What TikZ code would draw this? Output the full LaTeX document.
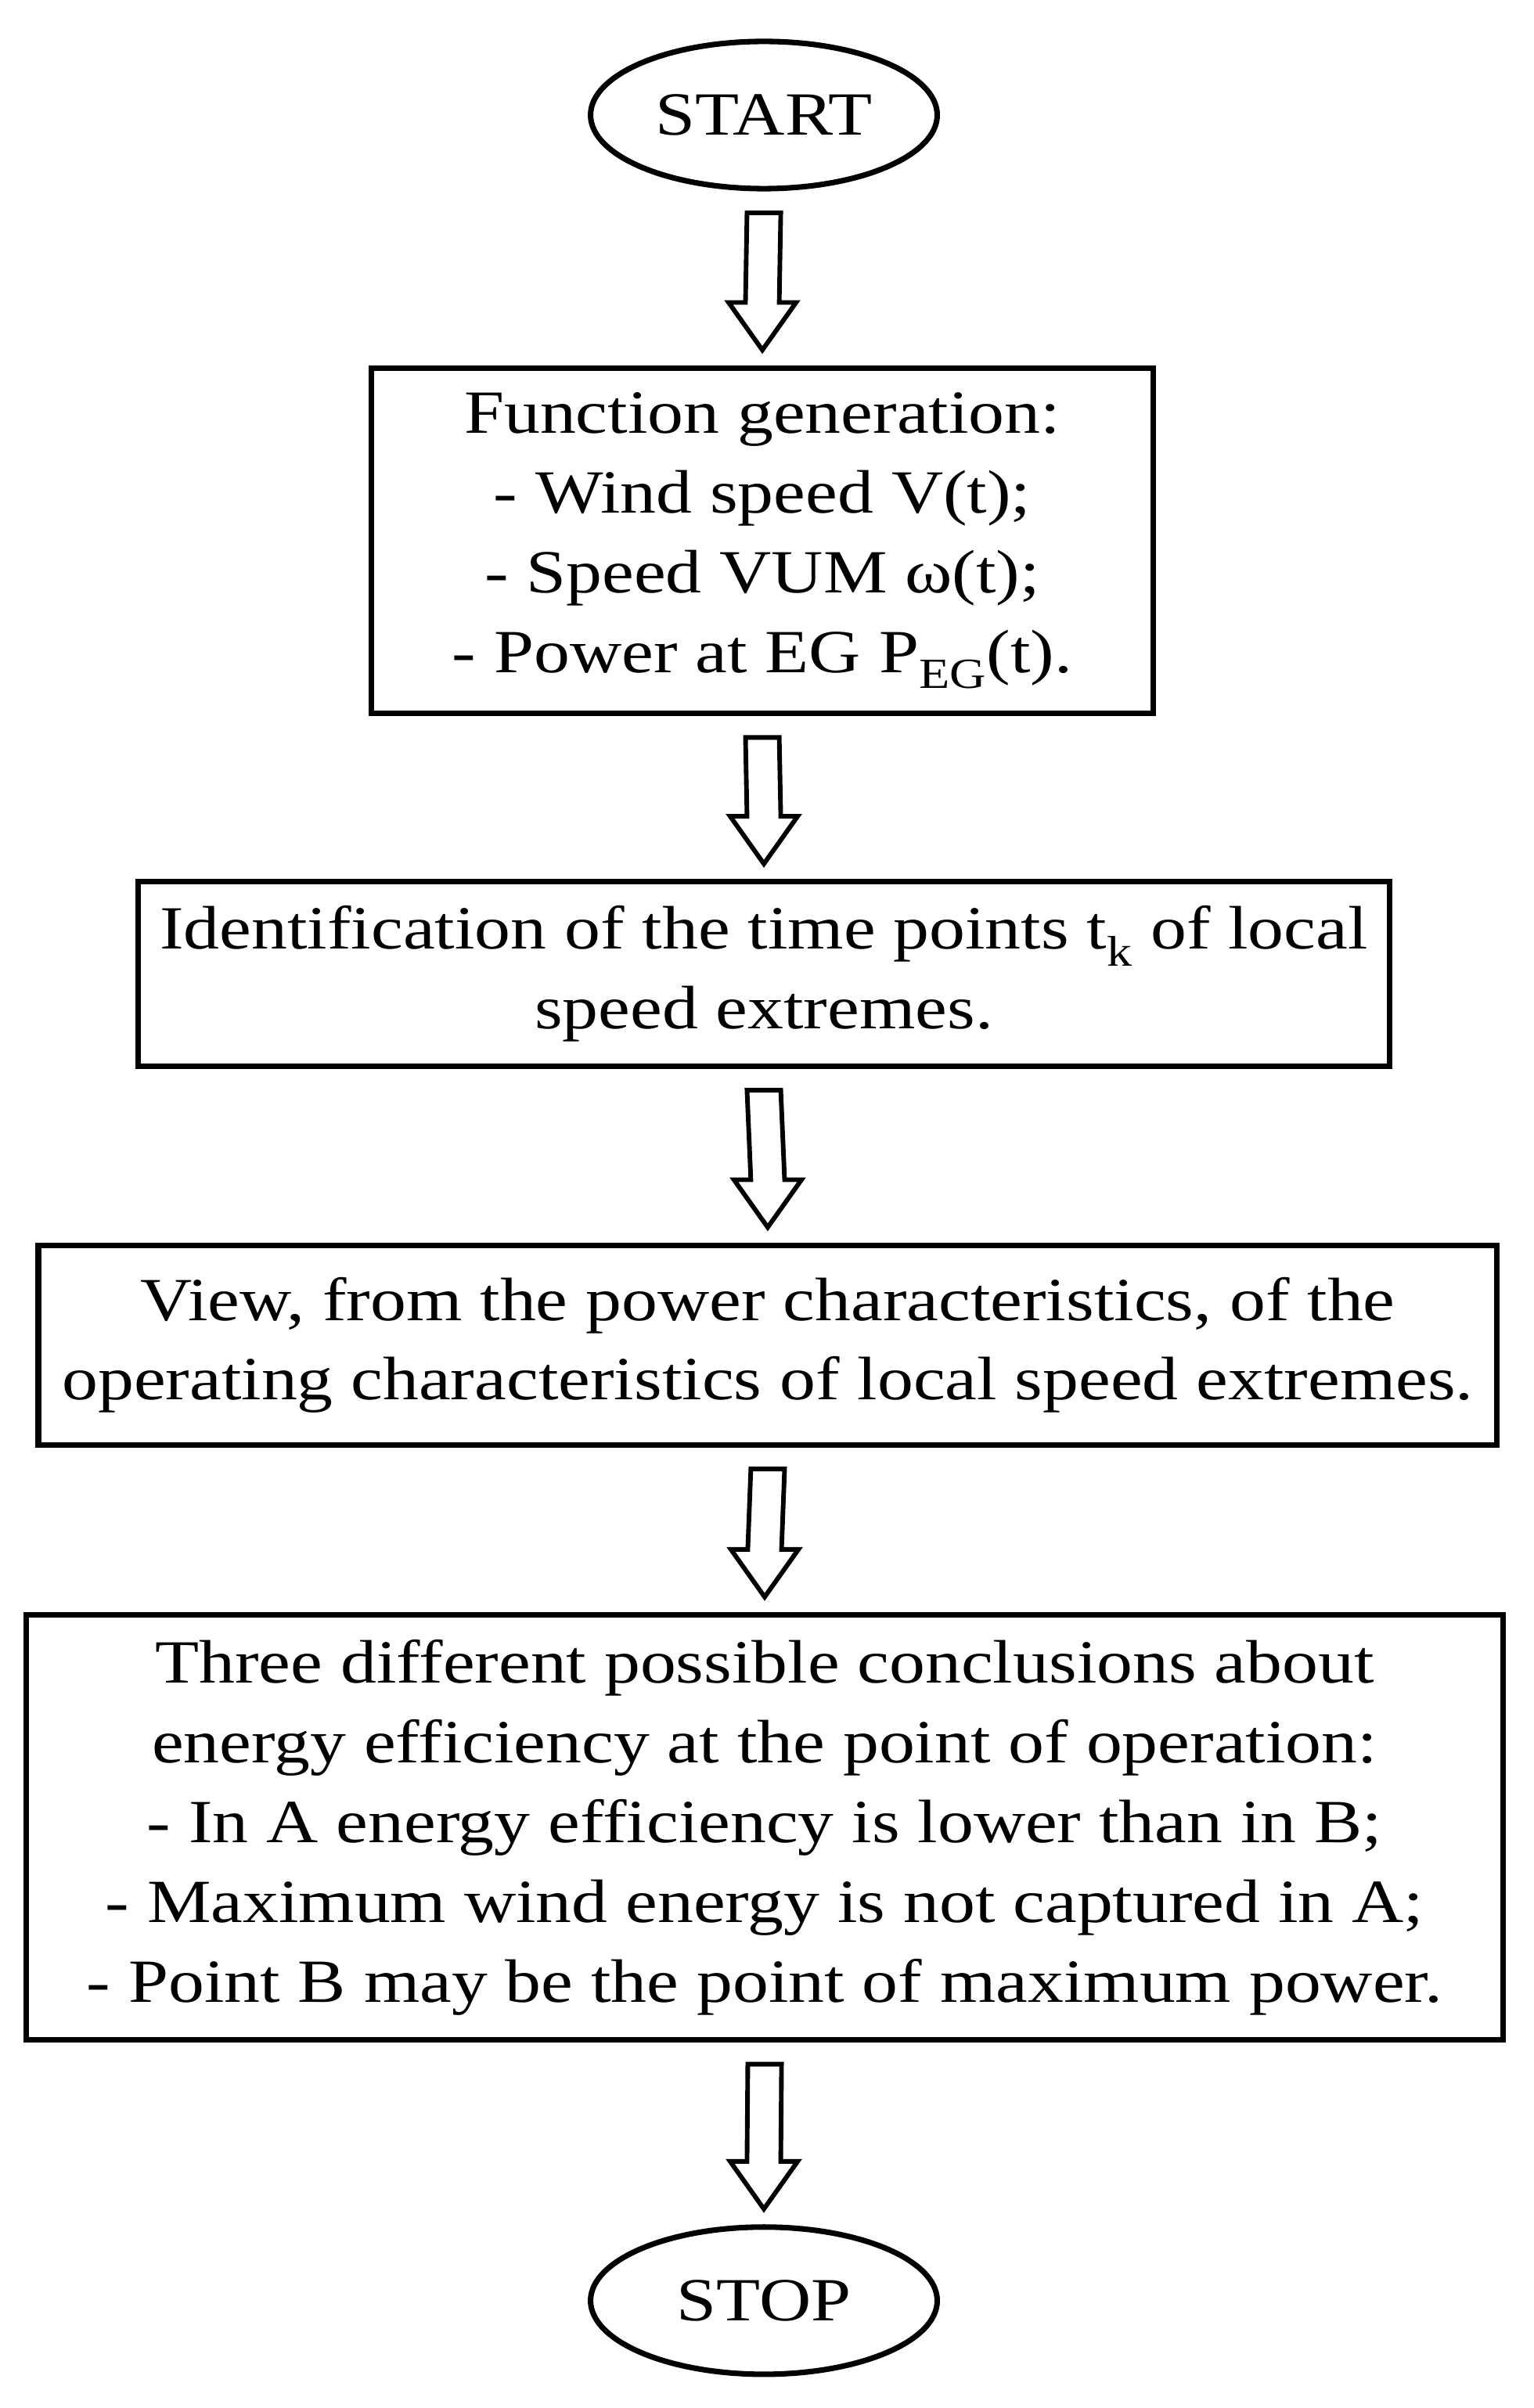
\documentclass[tikz,border=0pt]{standalone}
\usepackage{fontspec}
\setmainfont[FakeStretch=1.17]{Liberation Serif}
\usetikzlibrary{shapes.geometric}
\tikzset{
  box/.style={draw, line width=3.6pt, align=center, font=\fontsize{40}{52}\selectfont, inner sep=0pt},
  term/.style={draw, ellipse, line width=3.6pt, font=\fontsize{40}{52}\selectfont, minimum width=226pt, minimum height=96pt, inner sep=0pt},
  harrow/.style={draw, line width=3pt, line join=miter, fill=white}
}
\newcommand\hollowarrow[2]{%
  \path (#1.south) ++(0,-14) coordinate (ta);
  \path (#2.north) ++(0,10) coordinate (tb);
  \draw[harrow] (ta) ++(-11,0) -- ([xshift=-11pt,yshift=31pt]tb) -- ([xshift=-22pt,yshift=31pt]tb) -- (tb)
    -- ([xshift=22pt,yshift=31pt]tb) -- ([xshift=11pt,yshift=31pt]tb) -- ([xshift=11pt]ta) -- cycle;
}
\begin{document}
\begin{tikzpicture}[x=1pt,y=1pt]
\useasboundingbox (0,0) rectangle (1000,-1570);
\node[term] (start) at (498,-75) {START};
\node[box, minimum width=510pt, minimum height=225pt] (b1) at (497,-352.5) {Function generation:\\- Wind speed V(t);\\- Speed VUM ω(t);\\- Power at EG P\textsubscript{EG}(t).};
\node[box, minimum width=816pt, minimum height=120pt] (b2) at (498,-635) {Identification of the time points t\textsubscript{k} of local\\speed extremes.};
\node[box, minimum width=951pt, minimum height=130pt] (b3) at (500.5,-877) {View, from the power characteristics, of the\\operating characteristics of local speed extremes.};
\node[box, minimum width=963pt, minimum height=277pt] (b4) at (498.5,-1191.5) {Three different possible conclusions about\\energy efficiency at the point of operation:\\- In A energy efficiency is lower than in B;\\- Maximum wind energy is not captured in A;\\- Point B may be the point of maximum power.};
\node[term] (stop) at (498,-1500) {STOP};
\hollowarrow{start}{b1}
\hollowarrow{b1}{b2}
\hollowarrow{b2}{b3}
\hollowarrow{b3}{b4}
\hollowarrow{b4}{stop}
\end{tikzpicture}
\end{document}
